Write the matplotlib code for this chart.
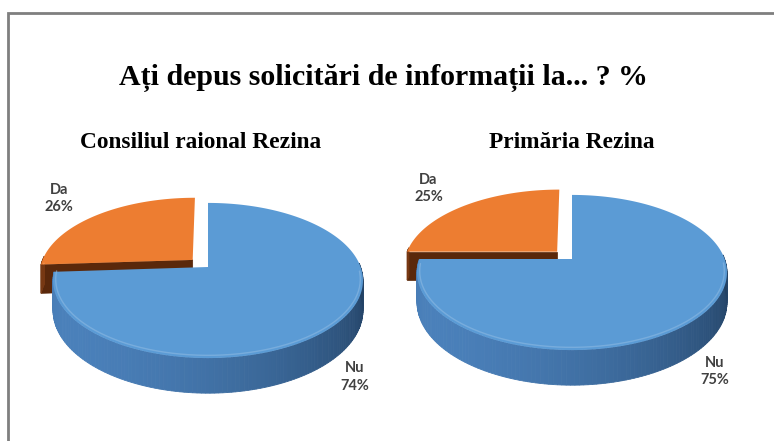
import numpy as np
import matplotlib
matplotlib.use("Agg")
import matplotlib.pyplot as plt
from matplotlib.patches import Polygon, Rectangle
from matplotlib.colors import to_rgb

# data
chart_title = "Ați depus solicitări de informații la... ? %"
panel_titles = ["Consiliul raional Rezina", "Primăria Rezina"]
categories = ["Da", "Nu"]
da_pct = [26, 25]
nu_pct = [74, 75]

# look of the fake 3d pie
TOP = {"Da": "#ED7D31", "Nu": "#5B9BD5"}
SIDE_LIGHT = {"Da": "#7A3A14", "Nu": "#4A80BA"}
SIDE_DARK = {"Da": "#5A280B", "Nu": "#1E3A5A"}
EXPLODE = {"Da": 0.14, "Nu": 0.0}
K = 0.493     # tilt (vertical squash)
A = 0.174     # perspective strength
H = 0.19      # thickness
PX = 152.6    # pixels per radius
W, HGT = 774, 441
centres = [(208, 267), (572, 259)]   # pie vertex in pixels (from top left)


def proj(X, Y, Z=0.0):
    d = 1 + A * np.asarray(Y)
    return np.asarray(X) / d, (K * np.asarray(Y) - H * Z) / d


def mix(c1, c2, f):
    a, b = np.array(to_rgb(c1)), np.array(to_rgb(c2))
    return tuple(b + (a - b) * f)


def draw_slice(ax, cat, t1, t2):
    mid = np.radians((t1 + t2) / 2)
    ox, oy = EXPLODE[cat] * np.cos(mid), EXPLODE[cat] * np.sin(mid)
    t = np.radians(np.linspace(t1, t2, 200))
    X, Y = ox + np.cos(t), oy + np.sin(t)

    # radial cut faces
    for te, nrm in ((t1, t1 - 90), (t2, t2 + 90)):
        if np.sin(np.radians(nrm)) < -0.01:
            ex, ey = ox + np.cos(np.radians(te)), oy + np.sin(np.radians(te))
            pts = [proj(ox, oy, 0), proj(ex, ey, 0), proj(ex, ey, 1), proj(ox, oy, 1)]
            ax.add_patch(Polygon(pts, closed=True, fc=SIDE_DARK[cat], ec=SIDE_DARK[cat], lw=0.5))

    # outer wall, shaded strip by strip
    for i in range(len(t) - 1):
        if np.sin(t[i]) > 0.05 and np.sin(t[i + 1]) > 0.05:
            continue
        shade = 0.5 + 0.5 * np.cos(t[i] - np.radians(215))
        col = mix(SIDE_LIGHT[cat], SIDE_DARK[cat], shade)
        xs = [X[i], X[i + 1], X[i + 1], X[i]]
        ys = [Y[i], Y[i + 1], Y[i + 1], Y[i]]
        zs = [0, 0, 1, 1]
        pts = [proj(x, y, z) for x, y, z in zip(xs, ys, zs)]
        ax.add_patch(Polygon(pts, closed=True, fc=col, ec=col, lw=0.6))

    # top face
    u, v = proj(np.r_[ox, X], np.r_[oy, Y])
    ax.add_patch(Polygon(np.c_[u, v], closed=True, fc=TOP[cat], ec="none"))
    # soft highlight on the front rim
    front = np.sin(t) < -0.05
    if front.any():
        hu, hv = proj(X[front] * 0.985, Y[front] * 0.985 + 0.01)
        ax.plot(hu, hv, color=mix("#FFFFFF", TOP[cat], 0.3), lw=1.0, alpha=0.6,
                solid_capstyle="round")
    return ox, oy, mid


fig = plt.figure(figsize=(W / 100, HGT / 100), dpi=100)
fig.patch.set_facecolor("white")

for p, (cx, cy) in enumerate(centres):
    ax = fig.add_axes([0, 0, 1, 1])
    ax.set_xlim(-cx / PX, (W - cx) / PX)
    ax.set_ylim(-(HGT - cy) / PX, cy / PX)
    ax.axis("off")
    ax.patch.set_alpha(0)

    vals = [da_pct[p], nu_pct[p]]
    angles = 90 + np.cumsum([0] + [v * 3.6 for v in vals])
    slices = []
    for i, cat in enumerate(categories):
        slices.append((cat, angles[i], angles[i + 1], vals[i]))
    # back slices first
    slices.sort(key=lambda s: -np.sin(np.radians((s[1] + s[2]) / 2)))
    for cat, t1, t2, val in slices:
        ox, oy, mid = draw_slice(ax, cat, t1, t2)
        if np.sin(mid) < 0:
            lx, ly = proj(ox + 1.14 * np.cos(mid), oy + 1.14 * np.sin(mid), 1.25)
        else:
            lx, ly = proj(ox + 1.45 * np.cos(mid), oy + 1.45 * np.sin(mid))
        ax.text(lx, ly, f"{cat}\n{val}%", ha="center", va="center",
                fontsize=10.5, family="Lato", fontweight="bold",
                color="#404040", linespacing=1.3)

    fig.text(cx / W - (7 if p == 0 else 0) / W, 1 - 143 / HGT, panel_titles[p],
             ha="center", va="center", fontsize=16.8,
             family="Liberation Serif", fontweight="bold", color="black")

fig.text(383 / W, 1 - 78 / HGT, chart_title, ha="center", va="center",
         fontsize=21.5, family="Liberation Serif", fontweight="bold", color="black")

# chart border (only top and left show in the crop)
fig.add_artist(Rectangle((8 / W, -0.2), 1.2, 1.2 - 13 / HGT, transform=fig.transFigure,
                         fill=False, ec="#7F7F7F", lw=2))

fig.savefig("out.png", dpi=100)
